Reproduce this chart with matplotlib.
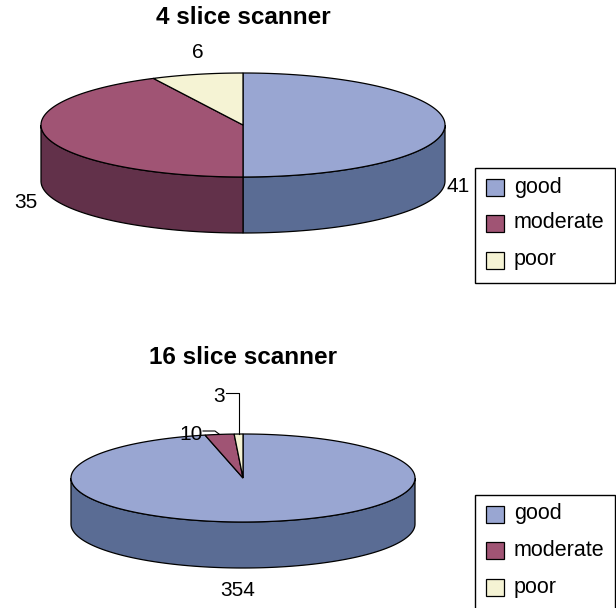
import numpy as np
import matplotlib
matplotlib.use("Agg")
import matplotlib.pyplot as plt
from matplotlib.patches import Polygon, Rectangle

plt.rcParams["font.family"] = ["Liberation Sans", "DejaVu Sans"]

# Data
categories = ["good", "moderate", "poor"]
scanner_4_values = [41, 35, 6]
scanner_16_values = [354, 10, 3]
titles = ["4 slice scanner", "16 slice scanner"]

top_colors = ["#99A6D2", "#A05474", "#F5F3D4"]
side_colors = ["#5A6C94", "#62314A", "#C4C2A8"]

fig = plt.figure(figsize=(6.16, 6.08), dpi=100)
ax = fig.add_axes([0, 0, 1, 1])
ax.set_xlim(0, 616)
ax.set_ylim(608, 0)
ax.axis("off")

EDGE_LW = 0.9


def slice_bounds(values):
    """Start/end angles (degrees) for each slice, clockwise from 12 o'clock."""
    total = float(sum(values))
    start = 90.0
    out = []
    for v in values:
        sweep = 360.0 * v / total
        out.append((start, start - sweep))
        start -= sweep
    return out


def pie3d(values, cx, cy, rx, ry, depth):
    bounds = slice_bounds(values)
    # outer wall, front half only
    for (a, b), col in zip(bounds, side_colors):
        lo, hi = max(b, -180.0), min(a, 0.0)
        if hi > lo:
            t = np.radians(np.linspace(hi, lo, 120))
            xs = cx + rx * np.cos(t)
            ys = cy - ry * np.sin(t)
            pts = np.column_stack([np.r_[xs, xs[::-1]], np.r_[ys, ys[::-1] + depth]])
            ax.add_patch(Polygon(pts, closed=True, fc=col, ec="black", lw=EDGE_LW))
    # top faces
    for (a, b), col in zip(bounds, top_colors):
        n = max(3, int(abs(a - b) * 2))
        t = np.radians(np.linspace(a, b, n))
        pts = np.column_stack([np.r_[cx, cx + rx * np.cos(t)],
                               np.r_[cy, cy - ry * np.sin(t)]])
        ax.add_patch(Polygon(pts, closed=True, fc=col, ec="black", lw=EDGE_LW,
                             joinstyle="miter"))
    return bounds


def edge_point(cx, cy, rx, ry, angle):
    t = np.radians(angle)
    return cx + rx * np.cos(t), cy - ry * np.sin(t)


LABEL_FS = 15
LEGEND_FS = 15.5
TITLE_FS = 17.5


def legend_box(x, y, h):
    ax.add_patch(Rectangle((x, y), 140, h, fc="white", ec="black", lw=1.0,
                           clip_on=False))
    rows = [y + 19, y + 55, y + 92]
    for name, col, ry in zip(categories, top_colors, rows):
        ax.add_patch(Rectangle((x + 11, ry - 8.5), 18, 17, fc=col, ec="black",
                               lw=0.9))
        ax.text(x + 39, ry, name, fontsize=LEGEND_FS, va="center", ha="left")


# ---- 4 slice scanner ----
ax.text(243, 17, titles[0], fontsize=TITLE_FS, fontweight="bold",
        ha="center", va="center")
pie3d(scanner_4_values, 243, 125, 202, 52, 56)
top_label_pos = [(458, 186), (26, 202), (198, 53)]
for v, (lx, ly) in zip(scanner_4_values, top_label_pos):
    ax.text(lx, ly, str(v), fontsize=LABEL_FS, ha="center", va="center")
legend_box(475, 168, 115)

# ---- 16 slice scanner ----
cx2, cy2, rx2, ry2 = 243, 478, 172, 44
ax.text(243, 358, titles[1], fontsize=TITLE_FS, fontweight="bold",
        ha="center", va="center")
b16 = pie3d(scanner_16_values, cx2, cy2, rx2, ry2, 46)

# good
ax.text(238, 590, str(scanner_16_values[0]), fontsize=LABEL_FS,
        ha="center", va="center")
# moderate, with leader
mid_m = 0.5 * (b16[1][0] + b16[1][1])
ex, ey = edge_point(cx2, cy2, rx2, ry2, mid_m)
ax.text(191, 434, str(scanner_16_values[1]), fontsize=LABEL_FS,
        ha="center", va="center")
ax.plot([203, 215, ex], [431, 431, ey], color="black", lw=0.8)
# poor, with leader
mid_p = 0.5 * (b16[2][0] + b16[2][1])
ex, ey = edge_point(cx2, cy2, rx2, ry2, mid_p)
ax.text(219, 397, str(scanner_16_values[2]), fontsize=LABEL_FS,
        ha="center", va="center")
ax.plot([226, ex, ex], [393, 393, ey], color="black", lw=0.8)

legend_box(475, 495, 140)

fig.savefig("out.png", dpi=100)
